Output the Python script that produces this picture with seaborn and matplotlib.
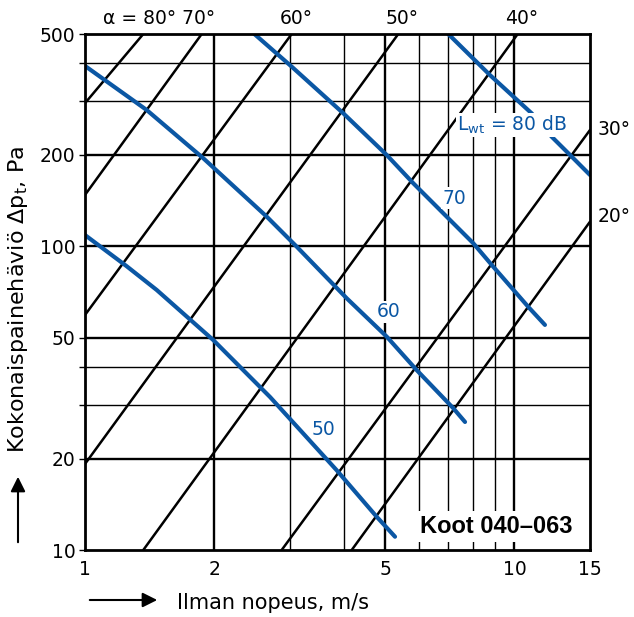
import numpy as np
import pandas as pd
import matplotlib
matplotlib.use('Agg')
import matplotlib.pyplot as plt
from matplotlib.ticker import NullFormatter, FixedLocator
import seaborn as sns

# damper angle lines: two end points (v m/s, dp Pa) per angle
alpha_labels = ['80°', '70°', '60°', '50°', '40°', '30°', '20°']
alpha_v0 = [1.0, 1.0, 1.0, 1.0, 1.367, 2.871, 4.18]
alpha_p0 = [296, 147.6, 59.4, 19.2, 10, 10, 10]
alpha_v1 = [1.367, 1.87, 3.029, 5.365, 10.18, 15, 15]
alpha_p1 = [500, 500, 500, 500, 500, 241.5, 120.5]

# sound power level curves Lwt (dB)
lw50_v = [1.0, 1.25, 1.469, 1.990, 2.697, 3.857, 4.778, 5.272]
lw50_p = [108.9, 86.0, 71.8, 49.1, 31.9, 18.3, 12.87, 11.06]
lw60_v = [1.0, 1.392, 1.886, 2.650, 3.112, 4.07, 5.043, 5.923, 7.205, 7.674]
lw60_p = [392.5, 281, 194.9, 125.2, 99.7, 67.4, 50.4, 39.1, 29.3, 26.4]
lw70_v = [2.48, 3.029, 3.996, 5.043, 5.816, 7.079, 8.023, 8.856, 10.77, 11.78]
lw70_p = [500, 390.4, 274, 199.8, 161.2, 122.1, 102.3, 86.8, 63.2, 55.1]
lw80_v = [7.016, 8.776, 10.97, 12.21, 13.48, 15.0]
lw80_p = [500, 366, 274, 229.6, 199.8, 171.7]

x_major = [2, 5, 10]
x_minor = [3, 4, 6, 7, 8, 9]
y_major = [20, 50, 100, 200]
y_minor = [30, 40, 300, 400]
x_ticks = [1, 2, 5, 10, 15]
y_ticks = [10, 20, 50, 100, 200, 500]

blue = '#0b57a4'

sns.set_style('white')
plt.rcParams['font.family'] = ['DejaVu Sans']
plt.rcParams['mathtext.fontset'] = 'dejavusans'
plt.rcParams['text.color'] = 'black'
plt.rcParams['xtick.color'] = 'black'
plt.rcParams['ytick.color'] = 'black'

fig = plt.figure(figsize=(6.34, 6.17), dpi=100)
ax = fig.add_axes([85/634, 67/617, 505/634, 516/617])
ax.set_xscale('log')
ax.set_yscale('log')

# grid
for v in x_major:
    ax.axvline(v, color='black', lw=1.7, zorder=1)
for v in x_minor:
    ax.axvline(v, color='black', lw=1.0, zorder=1)
for p in y_major:
    ax.axhline(p, color='black', lw=1.7, zorder=1)
for p in y_minor:
    ax.axhline(p, color='black', lw=1.0, zorder=1)

# damper lines
rows = []
for lab, v0, p0, v1, p1 in zip(alpha_labels, alpha_v0, alpha_p0, alpha_v1, alpha_p1):
    rows.append({'angle': lab, 'v': v0, 'p': p0})
    rows.append({'angle': lab, 'v': v1, 'p': p1})
damper = pd.DataFrame(rows)
sns.lineplot(data=damper, x='v', y='p', units='angle', estimator=None,
             color='black', lw=1.8, ax=ax, legend=False, zorder=2)

# sound level curves
curves = pd.concat([
    pd.DataFrame({'v': lw50_v, 'p': lw50_p, 'L': 50}),
    pd.DataFrame({'v': lw60_v, 'p': lw60_p, 'L': 60}),
    pd.DataFrame({'v': lw70_v, 'p': lw70_p, 'L': 70}),
    pd.DataFrame({'v': lw80_v, 'p': lw80_p, 'L': 80}),
])
sns.lineplot(data=curves, x='v', y='p', units='L', estimator=None,
             color=blue, lw=3.0, ax=ax, legend=False, zorder=3)

ax.set_xlim(1, 15)
ax.set_ylim(10, 500)

for s in ax.spines.values():
    s.set_color('black')
    s.set_linewidth(2.0)
    s.set_zorder(5)

ax.set_xticks(x_ticks)
ax.set_xticklabels([str(t) for t in x_ticks])
ax.xaxis.set_minor_locator(FixedLocator([]))
ax.set_yticks(y_ticks)
ax.set_yticklabels([str(t) for t in y_ticks])
ax.yaxis.set_minor_locator(FixedLocator(y_minor))
ax.yaxis.set_minor_formatter(NullFormatter())
ax.tick_params(axis='x', which='both', length=0, pad=7, labelsize=13.5)
ax.tick_params(axis='y', which='both', left=True, direction='out', length=4,
               width=1, pad=3, labelsize=13.5)
ax.set_xlabel('')
ax.set_ylabel('')

# angle labels
ax.text(1.487, 562, 'α = 80° 70°', ha='center', va='center', fontsize=13.5, clip_on=False)
ax.text(3.10, 562, '60°', ha='center', va='center', fontsize=13.5, clip_on=False)
ax.text(5.47, 562, '50°', ha='center', va='center', fontsize=13.5, clip_on=False)
ax.text(10.42, 562, '40°', ha='center', va='center', fontsize=13.5, clip_on=False)
ax.text(15.66, 241.5, '30°', ha='left', va='center', fontsize=13.5, clip_on=False)
ax.text(15.66, 125.2, '20°', ha='left', va='center', fontsize=13.5, clip_on=False)

# curve labels
lbl_box = dict(facecolor='white', edgecolor='none', pad=1)
ax.text(9.87, 250.8, r'$\mathregular{L_{wt}}$ = 80 dB', color=blue, ha='center',
        va='center', fontsize=13.5, bbox=lbl_box, zorder=4)
ax.text(7.23, 144.2, '70', color=blue, ha='center', va='center', fontsize=13.5,
        bbox=lbl_box, zorder=4)
ax.text(5.105, 60.8, '60', color=blue, ha='center', va='center', fontsize=13.5,
        bbox=lbl_box, zorder=4)
ax.text(3.584, 24.9, '50', color=blue, ha='center', va='center', fontsize=13.5,
        zorder=4)

ax.text(9.06, 11.95, 'Koot 040–063', ha='center', va='center', fontsize=17,
        fontweight='bold', family=['Liberation Sans', 'DejaVu Sans'],
        bbox=dict(facecolor='white', edgecolor='none', pad=3), zorder=4)

# axis titles with arrows
fig.text(177/634, 1 - 603/617, 'Ilman nopeus, m/s', ha='left', va='center', fontsize=15)
fig.text(18/634, 1 - 299/617, r'Kokonaispainehäviö $\mathregular{\Delta p_t}$, Pa',
         ha='center', va='center', rotation=90, fontsize=16)
fig.add_artist(matplotlib.patches.FancyArrowPatch(
    (87/634, 1 - 600/617), (160/634, 1 - 600/617), transform=fig.transFigure,
    arrowstyle='-|>', mutation_scale=22, color='black', lw=1.5))
fig.add_artist(matplotlib.patches.FancyArrowPatch(
    (18/634, 1 - 545/617), (18/634, 1 - 474/617), transform=fig.transFigure,
    arrowstyle='-|>', mutation_scale=22, color='black', lw=1.5))

fig.savefig('out.png', dpi=100)
